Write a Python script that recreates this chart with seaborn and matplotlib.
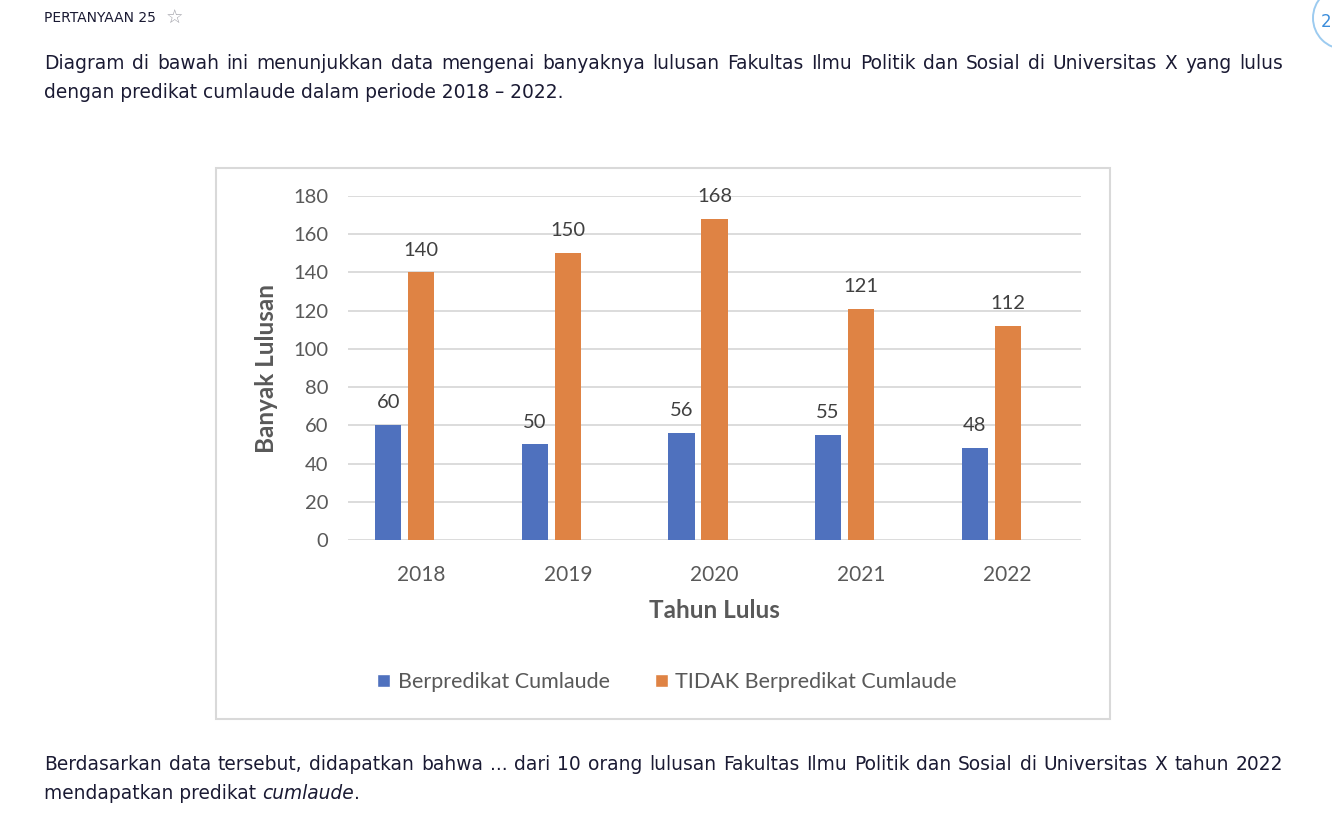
import matplotlib
matplotlib.use("Agg")
import matplotlib.pyplot as plt
import seaborn as sns
import pandas as pd
from matplotlib.patches import Rectangle, Circle, Patch

# data
years = ["2018", "2019", "2020", "2021", "2022"]
cumlaude = [60, 50, 56, 55, 48]
tidak_cumlaude = [140, 150, 168, 121, 112]
# the original excel chart keeps room for a third (empty) series
series = ["Berpredikat Cumlaude", "TIDAK Berpredikat Cumlaude", "Jumlah"]
colors = ["#4F71BE", "#DF8344", "#A5A5A5"]
yticks = [0, 20, 40, 60, 80, 100, 120, 140, 160, 180]

question_no = "PERTANYAAN 25"
intro_1 = "Diagram di bawah ini menunjukkan data mengenai banyaknya lulusan Fakultas Ilmu Politik dan Sosial di Universitas X yang lulus"
intro_2 = "dengan predikat cumlaude dalam periode 2018 \u2013 2022."
outro_1 = "Berdasarkan data tersebut, didapatkan bahwa ... dari 10 orang lulusan Fakultas Ilmu Politik dan Sosial di Universitas X tahun 2022"
outro_2 = ["mendapatkan predikat ", "cumlaude", "."]

df = pd.DataFrame({
    "Tahun": years * 2,
    "Seri": [series[0]] * len(years) + [series[1]] * len(years),
    "Jumlah": cumlaude + tidak_cumlaude,
})

sns.set_theme(style="white")
plt.rcParams["font.family"] = ["Lato", "DejaVu Sans"]

W, H = 1332, 813
fig = plt.figure(figsize=(W / 100, H / 100), dpi=100)
fig.patch.set_facecolor("white")

# page text (Verdana-like)
page_font = ["DejaVu Sans"]
ink = "#1a1a33"
body = 13.4
fig.text(44 / W, 1 - 18 / H, question_no, fontsize=10, color=ink, family=page_font, va="center")
fig.text(174 / W, 1 - 18 / H, "\u2606", fontsize=14, color="#a0a0a8", family=page_font, va="center", ha="center")

# circle top right
fig.patches.append(Circle((13.44, (H - 18) / 100), 0.31, transform=fig.dpi_scale_trans,
                          fill=False, edgecolor="#9CCBF0", lw=1.4))
fig.text(1331 / W, 1 - 22 / H, "2", fontsize=12, color="#3B8DDB", family=page_font, va="center", ha="right")

renderer = fig.canvas.get_renderer()


def justify(line, y, x0=44, x1=1283, size=body):
    words = line.split(" ")
    txts = [fig.text(0, 1 - y / H, w, fontsize=size, color=ink, family=page_font, va="center") for w in words]
    widths = [t.get_window_extent(renderer).width for t in txts]
    gap = (x1 - x0 - sum(widths)) / (len(words) - 1)
    x = x0
    for t, w in zip(txts, widths):
        t.set_x(x / W)
        x += w + gap


justify(intro_1, 63)
fig.text(44 / W, 1 - 93 / H, intro_2, fontsize=body, color=ink, family=page_font, va="center")
justify(outro_1, 764)

x = 44
for part, style in zip(outro_2, ["normal", "italic", "normal"]):
    t = fig.text(x / W, 1 - 793 / H, part, fontsize=body, color=ink, family=page_font,
                 style=style, va="center")
    x += t.get_window_extent(renderer).width

# chart frame
fig.patches.append(Rectangle((216 / W, 1 - 719 / H), (1110 - 216) / W, (719 - 168) / H,
                             transform=fig.transFigure, fill=False, edgecolor="#D9D9D9", lw=1.5))

ax = fig.add_axes([348 / W, 1 - 540 / H, (1081 - 348) / W, (540 - 196) / H])
sns.barplot(data=df, x="Tahun", y="Jumlah", hue="Seri", order=years, hue_order=series,
            palette=dict(zip(series, colors)), width=0.675, gap=0.21, linewidth=0,
            saturation=1, errorbar=None, legend=False, ax=ax)

ax.set_xlim(-0.5, 4.5)
ax.set_ylim(0, 180)
ax.set_yticks(yticks)
ax.yaxis.grid(True, color="#D9D9D9", lw=1.3)
ax.set_axisbelow(True)
sns.despine(ax=ax, left=True, bottom=True)
ax.tick_params(axis="both", length=0, labelsize=14.5, labelcolor="#595959")
ax.tick_params(axis="x", labelsize=15, pad=18)
ax.tick_params(axis="y", pad=14)

for c in ax.containers:
    ax.bar_label(c, padding=10, fontsize=14.5, color="#404040")

ax.set_xlabel("Tahun Lulus", fontsize=17.5, fontweight="bold", color="#595959", va="center")
ax.set_ylabel("Banyak Lulusan", fontsize=17.5, fontweight="bold", color="#595959", va="center")
ax.xaxis.set_label_coords(0.5, (540 - 610) / 344)
ax.yaxis.set_label_coords((267 - 348) / 733, 0.5)

handles = [Patch(facecolor=colors[0]), Patch(facecolor=colors[1])]
fig.legend(handles, series[:2], loc="center", bbox_to_anchor=(667 / W, 1 - 682 / H), ncol=2,
           frameon=False, fontsize=15.5, handlelength=0.6, handleheight=0.6, handletextpad=0.35,
           columnspacing=2.1, labelcolor="#595959")

fig.savefig("out.png", dpi=100)
